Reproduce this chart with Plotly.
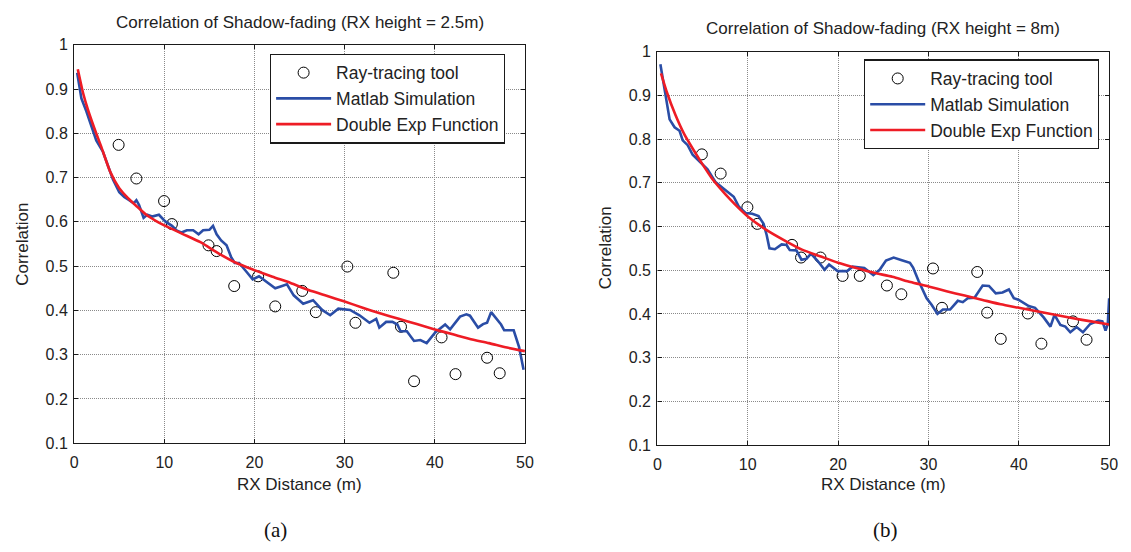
import plotly.graph_objects as go

W, H = 1131, 552

# ---------------- data: panel (a) RX height = 2.5 m ----------------
rt_x_a = [4.93, 6.9, 9.97, 10.84, 14.9, 15.8, 17.75, 20.4, 22.3, 25.3,
          26.8, 30.3, 31.2, 35.4, 36.25, 37.7, 40.75, 42.3, 45.8, 47.2]
rt_y_a = [0.774, 0.698, 0.647, 0.595, 0.547, 0.534, 0.455, 0.477, 0.409, 0.444,
          0.396, 0.499, 0.372, 0.485, 0.363, 0.240, 0.339, 0.256, 0.293, 0.258]

sim_x_a = [0.33, 0.8, 1.35, 2.45, 3.2, 4.3, 5.0, 5.55, 6.1, 6.6, 6.9, 7.2, 7.7, 8.1,
           8.65, 9.4, 10.1, 10.85, 11.4, 11.9, 12.5, 13.2, 13.8, 14.3, 15.0, 15.4,
           15.8, 16.3, 16.9, 17.4, 17.8, 18.3, 19.2, 19.8, 20.5, 21.25, 22.3, 22.9,
           23.6, 24.35, 25.4, 26.5, 27.5, 28.4, 29.3, 30.6, 31.65, 32.75, 33.5, 33.85,
           34.6, 35.3, 35.85, 36.2, 36.9, 37.7, 38.4, 39.1, 40.05, 41.15, 41.7, 42.8,
           43.5, 43.9, 44.8, 45.35, 45.8, 46.25, 47.0, 47.35, 47.7, 48.75, 49.35, 49.85]
sim_y_a = [0.937, 0.879, 0.85, 0.784, 0.758, 0.696, 0.667, 0.656, 0.649, 0.642, 0.649,
           0.638, 0.609, 0.616, 0.612, 0.616, 0.601, 0.591, 0.58, 0.576, 0.581, 0.581,
           0.572, 0.581, 0.582, 0.591, 0.572, 0.558, 0.547, 0.521, 0.507, 0.507, 0.485,
           0.47, 0.477, 0.466, 0.45, 0.454, 0.459, 0.434, 0.415, 0.423, 0.401, 0.389,
           0.404, 0.401, 0.389, 0.372, 0.381, 0.361, 0.374, 0.374, 0.368, 0.353, 0.353,
           0.331, 0.333, 0.326, 0.35, 0.368, 0.357, 0.386, 0.391, 0.388, 0.361, 0.369,
           0.372, 0.396, 0.377, 0.368, 0.355, 0.355, 0.317, 0.266]

fit_x_a = [0.4, 1, 1.5, 2, 2.5, 3, 4, 5, 6, 7, 8, 9, 10, 12, 14, 16, 18, 20, 22, 24,
           26, 28, 30, 32, 34, 36, 38, 40, 42, 44, 46, 48, 50]
fit_y_a = [0.945, 0.89, 0.855, 0.825, 0.797, 0.77, 0.713, 0.676, 0.653, 0.634, 0.616,
           0.603, 0.592, 0.573, 0.554, 0.529, 0.507, 0.491, 0.476, 0.462, 0.446, 0.433,
           0.42, 0.406, 0.393, 0.381, 0.369, 0.357, 0.346, 0.335, 0.326, 0.316, 0.308]

# ---------------- data: panel (b) RX height = 8 m ----------------
rt_x_b = [4.92, 7.0, 9.96, 11.05, 14.9, 15.9, 18.05, 20.5, 22.4, 25.4,
          27.0, 30.5, 31.5, 35.4, 36.5, 38.0, 41.0, 42.5, 46.0, 47.5]
rt_y_b = [0.765, 0.721, 0.644, 0.606, 0.558, 0.529, 0.529, 0.487, 0.487, 0.465,
          0.445, 0.504, 0.414, 0.496, 0.403, 0.343, 0.401, 0.332, 0.383, 0.341]

sim_x_b = [0.33, 0.8, 1.35, 1.9, 2.45, 2.8, 3.35, 3.9, 4.6, 5.55, 6.45, 7.55, 8.45, 9.0,
           9.75, 10.5, 11.2, 11.75, 12.1, 12.4, 13.0, 13.75, 14.3, 14.65, 15.4, 15.95,
           16.5, 17.0, 17.75, 18.5, 19.0, 19.95, 21.0, 21.6, 22.9, 23.9, 24.6, 25.3,
           26.15, 27.05, 27.95, 28.3, 28.9, 29.8, 30.35, 31.0, 31.6, 32.4, 33.25, 33.8,
           34.35, 35.1, 36.0, 36.7, 37.45, 38.2, 38.9, 39.45, 40.0, 41.1, 41.8, 42.75,
           43.5, 43.95, 44.6, 45.15, 45.7, 46.4, 47.1, 47.9, 48.8, 49.25, 49.6, 49.85, 50.0]
sim_y_b = [0.971, 0.908, 0.845, 0.827, 0.819, 0.797, 0.786, 0.764, 0.749, 0.731, 0.701,
           0.683, 0.668, 0.646, 0.631, 0.629, 0.624, 0.606, 0.58, 0.55, 0.548, 0.559,
           0.558, 0.546, 0.545, 0.524, 0.526, 0.538, 0.521, 0.501, 0.513, 0.498, 0.498,
           0.508, 0.505, 0.489, 0.501, 0.522, 0.529, 0.523, 0.517, 0.506, 0.476, 0.436,
           0.421, 0.4, 0.41, 0.41, 0.43, 0.427, 0.436, 0.437, 0.465, 0.464, 0.447, 0.449,
           0.456, 0.436, 0.432, 0.418, 0.414, 0.392, 0.371, 0.398, 0.375, 0.371, 0.358,
           0.37, 0.358, 0.377, 0.385, 0.383, 0.362, 0.377, 0.436]

fit_x_b = [0.4, 1, 2, 3, 4, 5, 6, 7, 8, 9, 10, 12, 14, 16, 18, 20, 22, 24, 26, 28,
           30, 32, 34, 36, 38, 40, 42, 44, 46, 48, 50]
fit_y_b = [0.95, 0.91, 0.855, 0.81, 0.775, 0.742, 0.711, 0.686, 0.663, 0.642, 0.623,
           0.593, 0.569, 0.547, 0.532, 0.517, 0.505, 0.494, 0.485, 0.473, 0.463, 0.452,
           0.442, 0.432, 0.422, 0.414, 0.406, 0.398, 0.39, 0.383, 0.376]

names = ["Ray-tracing tool", "Matlab Simulation", "Double Exp Function"]
titles = ["Correlation of Shadow-fading (RX height = 2.5m)",
          "Correlation of Shadow-fading (RX height = 8m)"]
panel_labels = ["(a)", "(b)"]
x_ticks = [0, 10, 20, 30, 40, 50]
y_ticks = [0.1, 0.2, 0.3, 0.4, 0.5, 0.6, 0.7, 0.8, 0.9, 1]

BLUE = "#2a4da6"
RED = "#ee1c25"
FONT = "Liberation Sans, Arial, sans-serif"

# plot-area pixel boxes (left, top, right, bottom)
boxes = [(71, 38, 527, 449), (661, 45, 1118, 451)]
title_y = [15, 21]
label_x = [275, 892]
legend_pos = [(269, 47), (870, 53)]


def px(x):
    return x / W


def py(y):
    return 1 - y / H


fig = go.Figure()

panels = [
    (rt_x_a, rt_y_a, sim_x_a, sim_y_a, fit_x_a, fit_y_a),
    (rt_x_b, rt_y_b, sim_x_b, sim_y_b, fit_x_b, fit_y_b),
]

for i, (rx, ry, sx, sy, fx, fy) in enumerate(panels):
    xa = "x" if i == 0 else "x2"
    ya = "y" if i == 0 else "y2"
    lg = "legend" if i == 0 else "legend2"
    fig.add_trace(go.Scatter(x=rx, y=ry, mode="markers", name=names[0],
                             marker=dict(symbol="circle-open", size=11,
                                         color="black", line=dict(width=1, color="black")),
                             xaxis=xa, yaxis=ya, legend=lg))
    fig.add_trace(go.Scatter(x=sx, y=sy, mode="lines", name=names[1],
                             line=dict(color=BLUE, width=2.6),
                             xaxis=xa, yaxis=ya, legend=lg))
    fig.add_trace(go.Scatter(x=fx, y=fy, mode="lines", name=names[2],
                             line=dict(color=RED, width=2.6, shape="spline", smoothing=0.6),
                             xaxis=xa, yaxis=ya, legend=lg))

axis_common = dict(
    showline=True, linecolor="#1a1a1a", linewidth=1.4, mirror="ticks",
    ticks="inside", ticklen=4, tickcolor="#1a1a1a", tickwidth=1,
    showgrid=True, gridcolor="#8a8a8a", griddash="1px,1px", gridwidth=1,
    zeroline=False, tickfont=dict(family=FONT, size=16, color="#222"),
)

layout = dict(
    width=W, height=H, autosize=False,
    margin=dict(l=0, r=0, t=0, b=0),
    paper_bgcolor="white", plot_bgcolor="white",
    showlegend=True,
)

for i, (l, t, r, b) in enumerate(boxes):
    sfx = "" if i == 0 else "2"
    layout["xaxis" + sfx] = dict(axis_common, domain=[px(l), px(r)], range=[0, 50],
                                 tickvals=x_ticks, anchor="y" + sfx, ticklabelstandoff=4)
    layout["yaxis" + sfx] = dict(axis_common, domain=[py(b), py(t)], range=[0.1, 1],
                                 tickvals=y_ticks, anchor="x" + sfx, ticklabelstandoff=2)

legend_common = dict(xanchor="left", yanchor="top",
                     bordercolor="#1a1a1a", borderwidth=1.2, bgcolor="white",
                     font=dict(family=FONT, size=17.5, color="#222"),
                     itemwidth=55, tracegroupgap=0)
layout["legend"] = dict(legend_common, x=px(legend_pos[0][0]), y=py(legend_pos[0][1]))
layout["legend2"] = dict(legend_common, x=px(legend_pos[1][0]), y=py(legend_pos[1][1]))

fig.update_layout(**layout)

annotations = []
for i, (l, t, r, b) in enumerate(boxes):
    cx = (l + r) / 2
    annotations.append(dict(text=titles[i], x=px(cx), y=py(title_y[i]), xref="paper", yref="paper",
                            showarrow=False, xanchor="center", yanchor="middle",
                            font=dict(family=FONT, size=17, color="#222")))
    annotations.append(dict(text="RX Distance (m)", x=px(cx), y=py(492), xref="paper", yref="paper",
                            showarrow=False, xanchor="center", yanchor="middle",
                            font=dict(family=FONT, size=17, color="#222")))
    annotations.append(dict(text="Correlation", x=px(l - 53), y=py((t + b) / 2), xref="paper",
                            yref="paper", showarrow=False, textangle=-90,
                            xanchor="center", yanchor="middle",
                            font=dict(family=FONT, size=17, color="#222")))
    annotations.append(dict(text=panel_labels[i], x=px(label_x[i]), y=py(539), xref="paper",
                            yref="paper", showarrow=False, xanchor="center", yanchor="middle",
                            font=dict(family="Liberation Serif, Times New Roman, serif", size=21,
                                      color="#111")))

fig.update_layout(annotations=annotations)

fig.write_html("out.html", config={"displayModeBar": False},
               post_script="document.body.style.margin='0';document.body.style.overflow='hidden';")
